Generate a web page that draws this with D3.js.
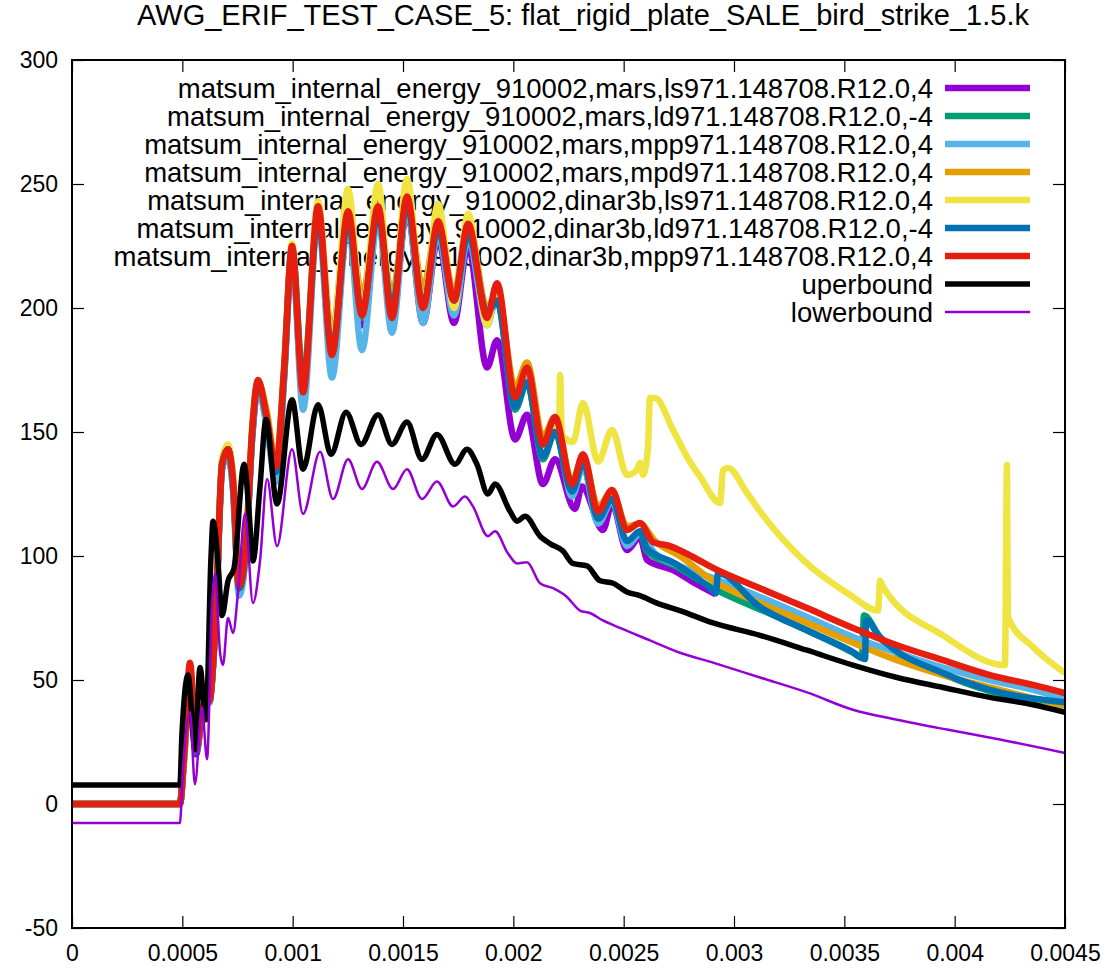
<!DOCTYPE html>
<html>
<head>
<meta charset="utf-8">
<script src="https://cdn.jsdelivr.net/npm/d3@7"></script>
<style>
body { margin: 0; background: #fff; }
text { font-family: "Liberation Sans", Arial, sans-serif; fill: #000; }
</style>
</head>
<body>
<div id="chart"></div>
<script>
const width = 1116;
const height = 972;

const title = "AWG_ERIF_TEST_CASE_5: flat_rigid_plate_SALE_bird_strike_1.5.k";
const xTicks = [0, 0.0005, 0.001, 0.0015, 0.002, 0.0025, 0.003, 0.0035, 0.004, 0.0045];
const yTicks = [-50, 0, 50, 100, 150, 200, 250, 300];

const seriesNames = [
    "matsum_internal_energy_910002,mars,ls971.148708.R12.0,4",
    "matsum_internal_energy_910002,mars,ld971.148708.R12.0,-4",
    "matsum_internal_energy_910002,mars,mpp971.148708.R12.0,4",
    "matsum_internal_energy_910002,mars,mpd971.148708.R12.0,4",
    "matsum_internal_energy_910002,dinar3b,ls971.148708.R12.0,4",
    "matsum_internal_energy_910002,dinar3b,ld971.148708.R12.0,-4",
    "matsum_internal_energy_910002,dinar3b,mpp971.148708.R12.0,4",
    "uperbound",
    "lowerbound"
];
const seriesColors = ["#9400d3", "#009e73", "#56b4e9", "#e69f00", "#f0e442", "#0072b2", "#e51e10", "#000000", "#9400d3"];
const seriesWidths = [6.5, 6.5, 6.5, 6.5, 6.5, 6.5, 6.5, 5.5, 2.5];

// time grid shared by the simulation curves up to ~0.0022 s
const tSim = [0, 0.000489, 0.000508, 0.000535, 0.000562, 0.000594, 0.000625, 0.000653, 0.00068, 0.000707,
    0.00073, 0.000757, 0.000789, 0.000816, 0.000843, 0.000879, 0.000925, 0.000961, 0.000997, 0.001047,
    0.001115, 0.001178, 0.001251, 0.001314, 0.001387, 0.00145, 0.001518, 0.001591, 0.001659, 0.001731,
    0.001795, 0.001881, 0.001926, 0.002008, 0.002062, 0.002134, 0.002189];

const marsLs = [0, 0, 18, 50, 20, 38, 42, 78, 135, 141, 127, 86, 103, 147, 168, 155, 132, 172, 222, 164,
    238, 177, 236, 193, 238, 193, 240, 194, 228, 194, 225, 176, 187, 147, 157, 129, 139];
const marsLd = [0, 0, 19, 52, 21, 39, 42, 79, 136, 142, 128, 87, 104, 148, 169, 156, 134, 173, 223, 168,
    237, 182, 235, 196, 237, 198, 241, 200, 231, 201, 229, 196, 203, 159, 170, 139, 150];
const marsMpp = [0, 0, 19, 52, 21, 39, 41, 78, 135, 141, 126, 84, 102, 147, 168, 154, 130, 171, 222, 159,
    236, 172, 234, 183, 236, 190, 240, 194, 230, 197, 228, 193, 205, 160, 172, 140, 152];
const marsMpd = [0, 0, 19, 53, 22, 40, 43, 80, 138, 144, 132, 88, 106, 150, 170, 160, 138, 176, 224, 172,
    238, 190, 240, 205, 240, 205, 244, 208, 236, 206, 235, 200, 206, 168, 178, 148, 156];
const dinarLs = [0, 0, 19, 53, 22, 40, 43, 81, 139, 145, 131, 88, 106, 152, 171, 158, 135, 176, 226, 168,
    243, 185, 248, 198, 250, 198, 252, 200, 242, 200, 238, 193, 208, 162, 176, 143, 155];
const dinarLd = [0, 0, 20, 54, 21, 39, 42, 79, 137, 143, 129, 87, 104, 149, 170, 157, 134, 174, 224, 170,
    237, 183, 235, 198, 238, 200, 242, 201, 232, 203, 230, 198, 203, 160, 170, 140, 150];
const dinarMpp = [0, 0, 20, 57, 22, 40, 42, 80, 137, 143, 130, 88, 105, 150, 171, 158, 136, 175, 225, 166,
    241, 181, 239, 197, 241, 196, 245, 200, 235, 203, 234, 196, 210, 164, 176, 145, 156];

// late-time parts, [time, energy]
const marsLsTail = [[0.002279, 119], [0.002311, 128], [0.002406, 110.5], [0.002447, 121], [0.002515, 102.4],
    [0.002574, 107.6], [0.002606, 98.4], [0.002724, 94.3], [0.002823, 89], [0.002918, 84.5]];
const marsLdTail = [[0.002266, 125], [0.002316, 137], [0.002384, 114], [0.002447, 122], [0.002515, 105],
    [0.002574, 109], [0.002606, 102], [0.002733, 96], [0.002905, 87], [0.003208, 75], [0.003539, 61],
    [0.00358, 59], [0.003589, 76], [0.003662, 67], [0.003947, 52.5], [0.00416, 45.5], [0.0045, 40.5]];
const marsMppTail = [[0.002266, 124], [0.002316, 136], [0.002384, 113], [0.002447, 122], [0.002515, 104],
    [0.002574, 109], [0.002642, 101], [0.002755, 96], [0.002905, 91], [0.003118, 83.5], [0.003331, 75.4],
    [0.003539, 67.3], [0.003739, 61], [0.003947, 55], [0.00416, 50], [0.004355, 46], [0.0045, 42.5]];
const marsMpdTail = [[0.002266, 130], [0.002316, 140], [0.002384, 120], [0.002447, 126], [0.002515, 112],
    [0.002574, 113], [0.002642, 106], [0.002755, 100], [0.002905, 90], [0.003118, 81], [0.003331, 73],
    [0.003539, 65], [0.003739, 58], [0.003947, 52], [0.00416, 47], [0.0045, 39.5]];
const dinarLsTail = [[0.002207, 147], [0.002212, 173], [0.00222, 149], [0.00227, 146], [0.002316, 161.7],
    [0.002384, 138], [0.002447, 150.8], [0.002515, 132.7], [0.00256, 134.7], [0.002574, 137.5],
    [0.002588, 132.7], [0.00261, 143.5], [0.002619, 163.7], [0.002642, 163.7], [0.002724, 150.8],
    [0.002787, 140], [0.002846, 132], [0.002937, 121.4], [0.00295, 134.7], [0.002973, 135.5],
    [0.003059, 125.4], [0.003118, 118], [0.003313, 98.4], [0.003526, 84.3], [0.003653, 78], [0.003662, 90],
    [0.003675, 87.5], [0.003947, 68], [0.004228, 56], [0.004237, 136.7], [0.004241, 75.4],
    [0.004355, 63.3], [0.0045, 52.8]];
const dinarLdTail = [[0.002266, 126], [0.002316, 138], [0.002384, 115], [0.002447, 123], [0.002515, 106],
    [0.002574, 110], [0.002606, 103], [0.002733, 97], [0.002905, 86], [0.002918, 85], [0.002927, 93],
    [0.003118, 79.4], [0.003331, 70], [0.003539, 61.3], [0.003594, 58.5], [0.003598, 74], [0.003662, 67.3],
    [0.003947, 52.8], [0.00416, 46], [0.0045, 41]];
const dinarMppTail = [[0.002266, 129], [0.002316, 141], [0.002384, 118], [0.002447, 126.6], [0.002515, 110.5],
    [0.002574, 113.3], [0.002633, 105.6], [0.00271, 104], [0.002814, 99.6], [0.002905, 95.2], [0.003104, 87.5],
    [0.003331, 79], [0.003539, 71], [0.003739, 64], [0.003947, 58], [0.00416, 52], [0.004355, 48], [0.0045, 44.7]];

const upperBound = [[0, 7.7], [0.000489, 7.7], [0.000498, 28], [0.000526, 52], [0.000557, 22], [0.00058, 55],
    [0.000607, 34], [0.00063, 100], [0.000639, 114], [0.000662, 97], [0.00068, 76], [0.000707, 90],
    [0.000734, 95], [0.00078, 137], [0.000802, 118], [0.00082, 98], [0.000852, 128], [0.000879, 155],
    [0.000929, 121], [0.000997, 163], [0.001047, 135], [0.001115, 161], [0.001174, 141], [0.001242, 158],
    [0.00131, 145], [0.001387, 157], [0.00145, 145], [0.001518, 154], [0.001586, 139], [0.001654, 149],
    [0.001736, 137], [0.00179, 143], [0.001835, 137], [0.001885, 125], [0.001917, 129], [0.001985, 118],
    [0.002017, 114], [0.002053, 116], [0.002121, 108], [0.002166, 105], [0.002225, 102], [0.00227, 97],
    [0.002334, 96], [0.002393, 90], [0.002452, 89], [0.002515, 85.5], [0.002574, 84], [0.002651, 81],
    [0.002755, 78], [0.002905, 73], [0.003118, 68], [0.003331, 62], [0.003539, 56], [0.003739, 51],
    [0.003947, 47], [0.00416, 43], [0.004355, 40], [0.0045, 37]];
const lowerBound = [[0, -7.7], [0.000489, -7.7], [0.000503, 15], [0.000535, 37], [0.000557, 8], [0.000589, 39],
    [0.000612, 18], [0.000634, 80], [0.000648, 93], [0.000671, 61], [0.000684, 56], [0.000707, 75],
    [0.00073, 69], [0.000752, 85], [0.000784, 117], [0.00082, 81], [0.000852, 98], [0.000884, 131],
    [0.000929, 104], [0.000997, 143], [0.001047, 117], [0.001124, 142], [0.001183, 123], [0.001251, 139],
    [0.001314, 127], [0.001382, 138], [0.001455, 127], [0.001518, 135], [0.001586, 123], [0.001654, 130],
    [0.001727, 120], [0.001781, 124], [0.001817, 120], [0.001885, 108], [0.001917, 110], [0.001976, 101],
    [0.002017, 97], [0.002062, 97.5], [0.002121, 89], [0.00218, 87], [0.002243, 83.5], [0.002302, 78],
    [0.002347, 77], [0.002406, 74], [0.002483, 71], [0.002619, 66], [0.002755, 61], [0.002905, 57],
    [0.003118, 51], [0.003331, 45], [0.003539, 38], [0.003739, 34], [0.003965, 30], [0.004205, 26],
    [0.0045, 20.6]];

const withTime = (vals, tail) => vals.map((v, i) => [tSim[i], v]).concat(tail);
const seriesData = [
    withTime(marsLs, marsLsTail),
    withTime(marsLd, marsLdTail),
    withTime(marsMpp, marsMppTail),
    withTime(marsMpd, marsMpdTail),
    withTime(dinarLs, dinarLsTail),
    withTime(dinarLd, dinarLdTail),
    withTime(dinarMpp, dinarMppTail),
    upperBound,
    lowerBound
];

const x = d3.scaleLinear().domain([0, 0.0045]).range([72, 1065]);
const y = d3.scaleLinear().domain([-50, 300]).range([928, 60]);

const svg = d3.select("#chart").append("svg")
    .attr("width", width)
    .attr("height", height);

svg.append("clipPath").attr("id", "plotclip")
    .append("rect")
    .attr("x", 72).attr("y", 60)
    .attr("width", 993).attr("height", 868);

// title
svg.append("text")
    .attr("x", 583).attr("y", 25)
    .attr("text-anchor", "middle")
    .style("font-size", "29px")
    .text(title);

// axes, gnuplot style: ticks inside and mirrored
const styleAxis = (g) => {
    g.select(".domain").remove();
    g.selectAll(".tick line").attr("stroke", "#000").attr("stroke-width", 1.2);
    g.selectAll(".tick text").style("font-size", "23px").attr("fill", "#000");
};
svg.append("g").attr("transform", "translate(0,928)")
    .call(d3.axisBottom(x).tickValues(xTicks).tickSize(-12).tickPadding(17).tickFormat(d => String(d)))
    .call(styleAxis);
svg.append("g").attr("transform", "translate(0,60)")
    .call(d3.axisTop(x).tickValues(xTicks).tickSize(-12).tickFormat(""))
    .call(styleAxis);
svg.append("g").attr("transform", "translate(72,0)")
    .call(d3.axisLeft(y).tickValues(yTicks).tickSize(-12).tickPadding(14).tickFormat(d => String(d)))
    .call(styleAxis);
svg.append("g").attr("transform", "translate(1065,0)")
    .call(d3.axisRight(y).tickValues(yTicks).tickSize(-12).tickFormat(""))
    .call(styleAxis);

// key
const key = svg.append("g");
seriesNames.forEach((name, i) => {
    const ky = 88 + 28 * i;
    key.append("text")
        .attr("x", 933).attr("y", ky)
        .attr("dy", "0.35em")
        .attr("text-anchor", "end")
        .style("font-size", "27.5px")
        .text(name);
    key.append("line")
        .attr("x1", 945).attr("x2", 1030)
        .attr("y1", ky).attr("y2", ky)
        .attr("stroke", seriesColors[i])
        .attr("stroke-width", seriesWidths[i]);
});

const line = d3.line()
    .x(d => x(d[0]))
    .y(d => y(d[1]))
    .curve(d3.curveMonotoneX);

svg.append("g").attr("clip-path", "url(#plotclip)")
    .selectAll("path")
    .data(seriesData)
    .join("path")
    .attr("d", line)
    .attr("fill", "none")
    .attr("stroke", (d, i) => seriesColors[i])
    .attr("stroke-width", (d, i) => seriesWidths[i])
    .attr("stroke-linejoin", "round");

// border
svg.append("rect")
    .attr("x", 72).attr("y", 60)
    .attr("width", 993).attr("height", 868)
    .attr("fill", "none")
    .attr("stroke", "#000")
    .attr("stroke-width", 2);
</script>
</body>
</html>
